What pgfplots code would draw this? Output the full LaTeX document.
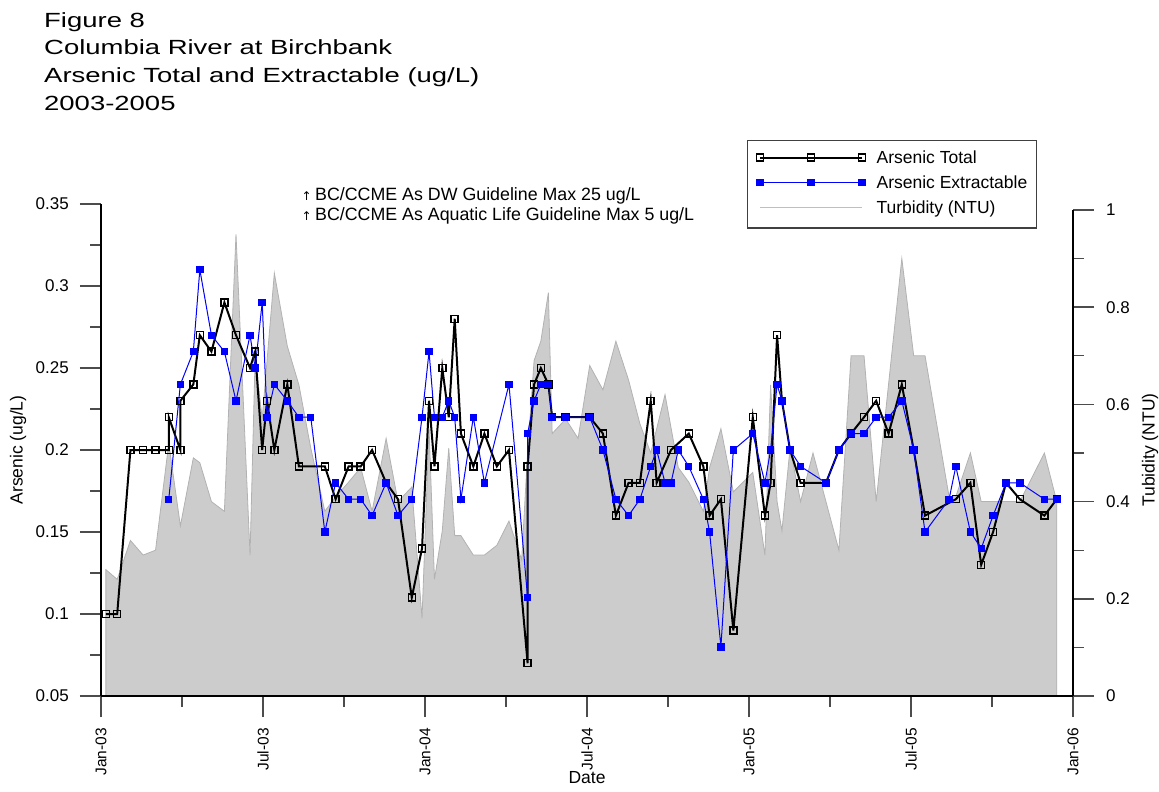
\documentclass[border=0pt]{standalone}
\usepackage{pgfplots}
\usepackage{pgfplotstable}
\pgfplotsset{compat=1.18}
\usepackage{fontspec}
\setmainfont{Liberation Sans}
\newfontfamily\arrowfont{DejaVu Sans}

% x = months since 1 Jan 2003
\pgfplotstableread{
x y
0.18 0.10
0.60 0.10
1.09 0.20
1.56 0.20
2.02 0.20
2.51 0.20
2.51 0.22
2.94 0.20
2.94 0.23
3.42 0.24
3.66 0.27
4.09 0.26
4.57 0.29
5.00 0.27
5.52 0.25
5.71 0.26
5.97 0.20
6.15 0.23
6.42 0.20
6.90 0.24
7.33 0.19
8.29 0.19
8.69 0.17
9.17 0.19
9.62 0.19
10.04 0.20
10.56 0.18
11.00 0.17
11.51 0.11
11.89 0.14
12.15 0.23
12.35 0.19
12.64 0.25
12.88 0.22
13.10 0.28
13.33 0.21
13.79 0.19
14.20 0.21
14.66 0.19
15.11 0.20
15.80 0.07
15.80 0.19
16.04 0.24
16.29 0.25
16.57 0.24
16.71 0.22
17.21 0.22
18.10 0.22
18.59 0.21
19.07 0.16
19.54 0.18
19.96 0.18
20.36 0.23
20.58 0.18
21.11 0.20
21.77 0.21
22.31 0.19
22.54 0.16
22.96 0.17
23.42 0.09
24.14 0.22
24.59 0.16
24.80 0.18
25.04 0.27
25.22 0.23
25.52 0.20
25.91 0.18
26.85 0.18
27.33 0.20
27.78 0.21
28.26 0.22
28.71 0.23
29.17 0.21
29.66 0.24
30.10 0.20
30.52 0.16
31.66 0.17
32.20 0.18
32.60 0.13
33.04 0.15
33.52 0.18
34.03 0.17
34.94 0.16
35.40 0.17
}\astotal

\pgfplotstableread{
x y
2.51 0.17
2.94 0.24
3.42 0.26
3.66 0.31
4.09 0.27
4.57 0.26
5.00 0.23
5.52 0.27
5.71 0.25
5.97 0.29
6.15 0.22
6.42 0.24
6.90 0.23
7.33 0.22
7.77 0.22
8.29 0.15
8.69 0.18
9.17 0.17
9.62 0.17
10.04 0.16
10.56 0.18
11.00 0.16
11.51 0.17
11.89 0.22
12.15 0.26
12.35 0.22
12.64 0.22
12.88 0.23
13.10 0.22
13.33 0.17
13.79 0.22
14.20 0.18
15.11 0.24
15.80 0.11
15.80 0.21
16.04 0.23
16.29 0.24
16.57 0.24
16.71 0.22
17.21 0.22
18.10 0.22
18.59 0.20
19.07 0.17
19.54 0.16
19.96 0.17
20.36 0.19
20.58 0.20
20.89 0.18
21.11 0.18
21.38 0.20
21.77 0.19
22.31 0.17
22.54 0.15
22.96 0.08
23.42 0.20
24.14 0.21
24.59 0.18
24.80 0.20
25.04 0.24
25.22 0.23
25.52 0.20
25.91 0.19
26.85 0.18
27.33 0.20
27.78 0.21
28.26 0.21
28.71 0.22
29.17 0.22
29.66 0.23
30.10 0.20
30.52 0.15
31.41 0.17
31.66 0.19
32.20 0.15
32.60 0.14
33.04 0.16
33.52 0.18
34.03 0.18
34.94 0.17
35.40 0.17
}\asextr

\pgfplotstableread{
x t
0.18 0.26
0.60 0.24
1.09 0.32
1.56 0.29
2.02 0.30
2.51 0.52
2.94 0.35
3.42 0.49
3.66 0.48
4.09 0.40
4.57 0.38
5.00 0.95
5.52 0.29
5.71 0.70
5.97 0.57
6.42 0.87
6.90 0.72
7.33 0.64
7.77 0.51
8.29 0.38
8.69 0.41
9.17 0.44
9.62 0.47
10.04 0.38
10.56 0.53
11.00 0.40
11.51 0.43
11.89 0.16
12.15 0.55
12.35 0.24
12.64 0.34
12.88 0.51
13.10 0.33
13.33 0.33
13.79 0.29
14.20 0.29
14.66 0.31
15.11 0.36
15.58 0.28
15.80 0.50
16.04 0.69
16.29 0.73
16.57 0.83
16.71 0.54
17.21 0.57
17.67 0.53
18.10 0.68
18.59 0.63
19.07 0.73
19.54 0.65
19.96 0.56
20.36 0.50
20.89 0.62
21.38 0.47
21.77 0.44
22.31 0.38
22.54 0.47
22.96 0.55
23.42 0.42
24.14 0.46
24.59 0.29
24.80 0.64
25.04 0.40
25.22 0.34
25.52 0.51
25.91 0.40
26.37 0.50
27.33 0.30
27.78 0.70
28.26 0.70
28.71 0.40
29.66 0.90
30.10 0.70
30.52 0.70
31.41 0.41
31.66 0.41
32.20 0.50
32.60 0.40
34.03 0.40
34.94 0.50
35.40 0.40
}\turb

\begin{document}
\begin{tikzpicture}
\path[use as bounding box] (0,0) rectangle (1159bp,-792bp);

% title
\begin{scope}[every node/.style={anchor=base west, inner sep=0pt, font=\fontsize{20.5bp}{24bp}\selectfont}]
\node at (44bp,-27bp) {\scalebox{1.34}[1]{Figure 8}};
\node at (44bp,-54.7bp) {\scalebox{1.34}[1]{Columbia River at Birchbank}};
\node at (44bp,-82.4bp) {\scalebox{1.34}[1]{Arsenic Total and Extractable (ug/L)}};
\node at (44bp,-110bp) {\scalebox{1.34}[1]{2003-2005}};
\end{scope}

\pgfplotsset{
  base/.style={
    scale only axis, width=972bp, height=492bp,
    at={(101bp,-696bp)}, anchor=south west,
    xmin=0, xmax=36,
    tick align=outside,
    major tick length=21bp, minor tick length=10.5bp,
    every tick/.style={black!70, line width=1.4bp},
    axis line style={black, line width=1.6bp},
    /pgf/number format/assume math mode=true,
    tick label style={font=\fontsize{17bp}{20bp}\selectfont, inner sep=0bp},
    label style={font=\fontsize{17.5bp}{20bp}\selectfont},
  }
}

% turbidity (right axis)
\begin{axis}[base,
  ymin=0, ymax=1.0123,
  axis x line=none, axis y line*=right,
  y axis line style={shorten >=6bp},
  ytick={0,0.2,0.4,0.6,0.8,1}, yticklabels={0,0.2,0.4,0.6,0.8,1},
  minor y tick num=1,
  yticklabel style={anchor=west, xshift=12bp},
  ylabel={Tubidity (NTU)},
  ylabel style={at={(rel axis cs:1.0792,0.5)}, anchor=center},
]
\addplot[fill=black!20, draw=black!30, line width=0.8bp] table[x=x, y=t] {\turb} \closedcycle;
\end{axis}

% arsenic (left axis)
\begin{axis}[base,
  ymin=0.05, ymax=0.35,
  axis x line*=bottom, axis y line*=left,
  xtick={0,6,12,18,24,30,36},
  xticklabels={Jan-03,Jul-03,Jan-04,Jul-04,Jan-05,Jul-05,Jan-06},
  minor x tick num=1,
  xticklabel style={font=\fontsize{15.5bp}{18bp}\selectfont, yshift=-11bp, rotate=90, anchor=east},
  ytick={0.05,0.1,0.15,0.2,0.25,0.3,0.35},
  yticklabels={0.05,0.1,0.15,0.2,0.25,0.3,0.35},
  minor y tick num=1,
  yticklabel style={anchor=east, xshift=-11bp},
  xlabel={Date}, xlabel style={at={(rel axis cs:0.5,-0.1667)}, anchor=center},
  ylabel={Arsenic (ug/L)}, ylabel style={at={(rel axis cs:-0.0854,0.5)}, anchor=center},
  legend cell align=left,
  legend image code/.code={\draw[#1] plot coordinates {(0bp,1.8bp) (51bp,1.8bp) (102bp,1.8bp)};},
  legend style={at={(rel axis cs:0.6646,1.130)}, anchor=north west,
    draw=black!75, line width=1.2bp, fill=white,
    inner xsep=9bp, inner ysep=10.5bp, row sep=8.6bp,
    font=\fontsize{17.5bp}{20bp}\selectfont,
    nodes={inner sep=0bp, text height=12.7bp, text depth=3.7bp},
    /tikz/every odd column/.append style={column sep=11bp}},
]
\addplot[black, line width=2bp, mark=square, mark size=3.5bp, mark options={fill=white, line width=1.5bp}] table[x=x, y=y] {\astotal};
\addplot[blue, line width=1bp, mark=square*, mark size=3.2bp] table[x=x, y=y] {\asextr};
\addlegendimage{black!25, line width=1.2bp, no markers}
\legend{Arsenic Total, Arsenic Extractable, Turbidity (NTU)}
\end{axis}

% guideline notes
\begin{scope}[every node/.style={inner sep=0pt, font=\fontsize{17.8bp}{20bp}\selectfont}]
\node[anchor=base] at (306.7bp,-200bp) {\arrowfont\fontsize{12bp}{14bp}\selectfont ↑};
\node[anchor=base west] at (315bp,-200bp) {BC/CCME As DW Guideline Max 25 ug/L};
\node[anchor=base] at (306.7bp,-220.7bp) {\arrowfont\fontsize{12bp}{14bp}\selectfont ↑};
\node[anchor=base west] at (315bp,-220.7bp) {BC/CCME As Aquatic Life Guideline Max 5 ug/L};
\end{scope}
\end{tikzpicture}
\end{document}
